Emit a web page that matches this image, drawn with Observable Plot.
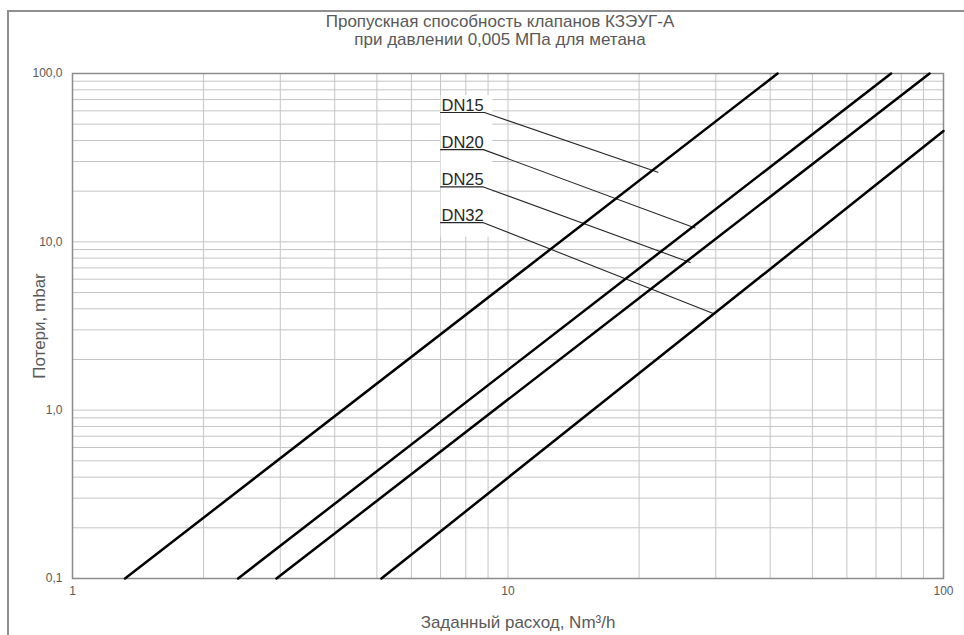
<!DOCTYPE html>
<html>
<head>
<meta charset="utf-8">
<script src="https://cdn.jsdelivr.net/npm/d3@7"></script>
<script src="https://cdn.jsdelivr.net/npm/@observablehq/plot@0.6"></script>
<style>
  html, body { margin: 0; padding: 0; background: #ffffff; overflow: hidden; }
  #wrap { position: relative; width: 964px; height: 635px; overflow: hidden; font-family: "Liberation Sans", Arial, sans-serif; }
  #frame { position: absolute; left: 7px; top: 10px; width: 1000px; height: 700px; border: 2px solid #8f8f8f; box-sizing: border-box; pointer-events: none; }
  #title { position: relative; height: 60px; width: 964px; box-sizing: border-box; padding-top: 13px; padding-left: 36px; text-align: center; font-size: 17px; line-height: 18px; color: #595959; }
  #chart { position: relative; }
</style>
</head>
<body>
<div id="wrap">
  <div id="frame"></div>
  <div id="title">Пропускная способность клапанов КЗЭУГ-А<br>при давлении 0,005 МПа для метана</div>
  <div id="chart"></div>
</div>
<script>
// Axis ticks and labels
const xTicks = [1, 10, 100];
const xTickLabels = ["1", "10", "100"];
const yTicks = [0.1, 1, 10, 100];
const yTickLabels = ["0,1", "1,0", "10,0", "100,0"];

// Series (straight lines on log-log axes), endpoints
const series = ["DN15", "DN20", "DN25", "DN32"];
const flowStart = [1.32, 2.40, 2.94, 5.12];
const lossStart = [0.1, 0.1, 0.1, 0.1];
const flowEnd = [41.6, 75.8, 92.9, 100];
const lossEnd = [100, 100, 100, 45.5];

// Callout labels
const labelFlowStart = [7.0, 7.0, 7.0, 7.0];
const labelFlowEnd = [8.83, 8.78, 8.78, 8.78];
const labelLoss = [58.6, 35.3, 21.2, 13.0];
const pointerFlow = [22.1, 26.9, 26.2, 29.7];
const pointerLoss = [25.9, 12.1, 7.54, 3.74];

// Build tables
const lineData = series.flatMap((s, i) => [
  {series: s, flow: flowStart[i], loss: lossStart[i]},
  {series: s, flow: flowEnd[i], loss: lossEnd[i]}
]);
const calloutData = series.flatMap((s, i) => [
  {series: s, flow: labelFlowStart[i], loss: labelLoss[i]},
  {series: s, flow: labelFlowEnd[i], loss: labelLoss[i]},
  {series: s, flow: pointerFlow[i], loss: pointerLoss[i]}
]);
const labelData = series.map((s, i) => ({series: s, flow: labelFlowStart[i], loss: labelLoss[i]}));
const box = [{
  x1: d3.min(labelFlowStart) * 1.003,
  x2: d3.max(labelFlowEnd) * 1.045,
  y1: d3.min(labelLoss) * 0.82,
  y2: d3.max(labelLoss) * 1.26
}];

// Grid lines at 1..9 x 10^k
const xGrid = [1, 10].flatMap(p => d3.range(1, 10).map(m => m * p)).concat([100]);
const yGrid = [0.1, 1, 10].flatMap(p => d3.range(1, 10).map(m => +(m * p).toPrecision(3))).concat([100]);

const fmtX = d => xTickLabels[xTicks.indexOf(d)];
const fmtY = d => yTickLabels[yTicks.indexOf(d)];

const chart = Plot.plot({
  width: 964,
  height: 575,
  marginLeft: 72,
  marginRight: 21,
  marginTop: 13,
  marginBottom: 57,
  x: {type: "log", domain: [1, 100]},
  y: {type: "log", domain: [0.1, 100]},
  style: {fontFamily: "'Liberation Sans', Arial, sans-serif", fontSize: "12px", color: "#595959", background: "transparent", overflow: "visible"},
  marks: [
    Plot.gridX(xGrid, {stroke: "#c4c4c4", strokeOpacity: 1, strokeWidth: 1}),
    Plot.gridY(yGrid, {stroke: "#c4c4c4", strokeOpacity: 1, strokeWidth: 1}),
    Plot.rect(box, {x1: "x1", x2: "x2", y1: "y1", y2: "y2", fill: "white"}),
    Plot.frame({stroke: "#8c8c8c", strokeWidth: 1.5}),
    Plot.axisX(xTicks, {tickSize: 0, tickPadding: 8, tickFormat: fmtX, fontSize: 12, fill: "#595959", label: null}),
    Plot.axisY(yTicks, {tickSize: 0, tickPadding: 10, tickFormat: fmtY, fontSize: 12, fill: "#595959", label: null}),
    Plot.text(["Заданный расход, Nm³/h"], {frameAnchor: "bottom", text: d => d, dy: 44, dx: 10, textAnchor: "middle", lineAnchor: "middle", fontSize: 17, fill: "#595959"}),
    Plot.text(["Потери, mbar"], {frameAnchor: "left", text: d => d, dx: -33, rotate: -90, textAnchor: "middle", lineAnchor: "middle", fontSize: 17, fill: "#595959"}),
    Plot.line(calloutData, {x: "flow", y: "loss", z: "series", stroke: "#262626", strokeWidth: 1.1}),
    Plot.line(lineData, {x: "flow", y: "loss", z: "series", stroke: "#000000", strokeWidth: 2.5}),
    Plot.text(labelData, {x: "flow", y: "loss", text: "series", textAnchor: "start", lineAnchor: "bottom", dx: 1, dy: -2, fontSize: 16.5, fill: "#262626"})
  ]
});
document.getElementById("chart").appendChild(chart);
</script>
</body>
</html>
